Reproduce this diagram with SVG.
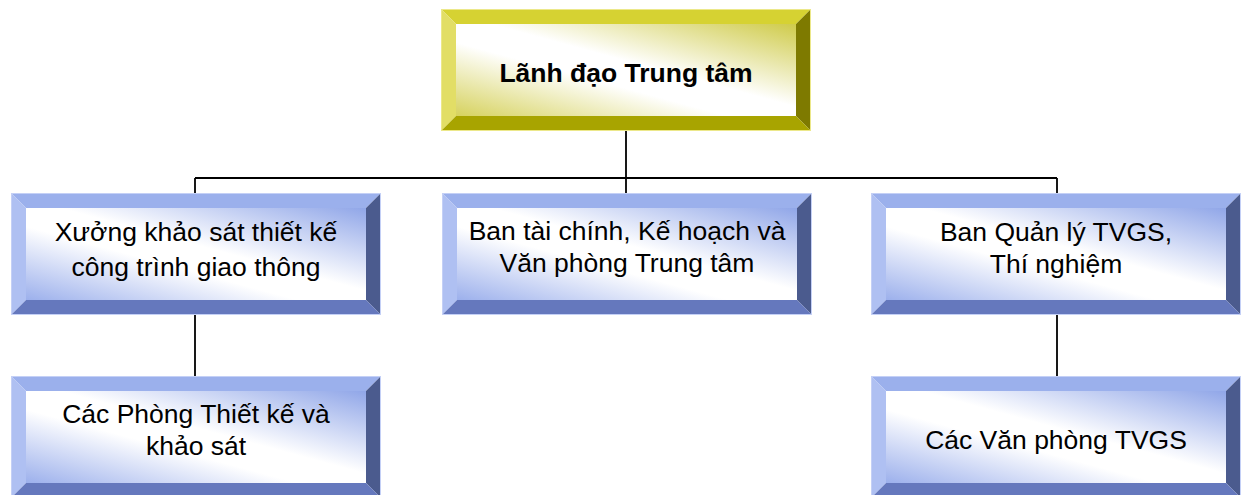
<svg xmlns="http://www.w3.org/2000/svg" width="1241" height="495" viewBox="0 0 1241 495">
<defs>
<linearGradient id="gy" x1="1" y1="0" x2="0" y2="1">
<stop offset="0" stop-color="#CFCB4A"/>
<stop offset="0.45" stop-color="#FFFFFF"/>
<stop offset="0.6" stop-color="#FFFFFF"/>
<stop offset="1" stop-color="#D6D25E"/>
</linearGradient>
<linearGradient id="gb" x1="1" y1="0" x2="0" y2="1">
<stop offset="0" stop-color="#90A6E8"/>
<stop offset="0.45" stop-color="#FFFFFF"/>
<stop offset="0.6" stop-color="#FFFFFF"/>
<stop offset="1" stop-color="#9CB0EC"/>
</linearGradient>
<style>
.yt{fill:#D6D232}.yl{fill:#E2DE66}.yr{fill:#7E7A00}.yb{fill:#A8A400}.yi{fill:url(#gy)}
.bt{fill:#9BB0EC}.bl{fill:#AFC0F2}.br{fill:#4B5B8E}.bb{fill:#6578BD}.bi{fill:url(#gb)}
.yo{fill:none;stroke:#ECE88A;stroke-width:1}
.bo{fill:none;stroke:#C4D0F6;stroke-width:1}
text{font-family:"Liberation Sans",Arial,sans-serif;font-size:26.5px;fill:#000;text-anchor:middle}
.bold{font-weight:bold}
.conn{stroke:#000;stroke-width:1.8;fill:none}
</style>
</defs>
<g id="connectors">
<path class="conn" d="M626,131 V193 M195,178 H1057 M195,178 V193 M1057,178 V193 M195,315 V376 M1057,315 V376"/>
</g>
<g id="node-top">
<polygon class="yt" points="441,9 811,9 796,24 456,24"/>
<polygon class="yl" points="441,9 456,24 456,116 441,131"/>
<polygon class="yr" points="811,9 811,131 796,116 796,24"/>
<polygon class="yb" points="441,131 456,116 796,116 811,131"/>
<rect class="yi" x="456" y="24" width="340" height="92"/>
<rect class="yo" x="441.5" y="9.5" width="369" height="121"/>
<text class="bold" x="626" y="82">Lãnh đạo Trung tâm</text>
</g>
<g id="node-xuong">
<polygon class="bt" points="11,193 381,193 366,208 26,208"/>
<polygon class="bl" points="11,193 26,208 26,300 11,315"/>
<polygon class="br" points="381,193 381,315 366,300 366,208"/>
<polygon class="bb" points="11,315 26,300 366,300 381,315"/>
<rect class="bi" x="26" y="208" width="340" height="92"/>
<rect class="bo" x="11.5" y="193.5" width="369" height="121"/>
<text x="196" y="241">Xưởng khảo sát thiết kế</text>
<text x="196" y="276">công trình giao thông</text>
</g>
<g id="node-ban-taichinh">
<polygon class="bt" points="442,193 812,193 797,208 457,208"/>
<polygon class="bl" points="442,193 457,208 457,300 442,315"/>
<polygon class="br" points="812,193 812,315 797,300 797,208"/>
<polygon class="bb" points="442,315 457,300 797,300 812,315"/>
<rect class="bi" x="457" y="208" width="340" height="92"/>
<rect class="bo" x="442.5" y="193.5" width="369" height="121"/>
<text x="627" y="240">Ban tài chính, Kế hoạch và</text>
<text x="627" y="272">Văn phòng Trung tâm</text>
</g>
<g id="node-ban-quanly">
<polygon class="bt" points="871,193 1241,193 1226,208 886,208"/>
<polygon class="bl" points="871,193 886,208 886,300 871,315"/>
<polygon class="br" points="1241,193 1241,315 1226,300 1226,208"/>
<polygon class="bb" points="871,315 886,300 1226,300 1241,315"/>
<rect class="bi" x="886" y="208" width="340" height="92"/>
<rect class="bo" x="871.5" y="193.5" width="369" height="121"/>
<text x="1056" y="241">Ban Quản lý TVGS,</text>
<text x="1056" y="273">Thí nghiệm</text>
</g>
<g id="node-phong-thietke">
<polygon class="bt" points="11,376 381,376 366,391 26,391"/>
<polygon class="bl" points="11,376 26,391 26,483 11,498"/>
<polygon class="br" points="381,376 381,498 366,483 366,391"/>
<polygon class="bb" points="11,498 26,483 366,483 381,498"/>
<rect class="bi" x="26" y="391" width="340" height="92"/>
<rect class="bo" x="11.5" y="376.5" width="369" height="121"/>
<text x="196" y="423">Các Phòng Thiết kế và</text>
<text x="196" y="455">khảo sát</text>
</g>
<g id="node-vanphong-tvgs">
<polygon class="bt" points="871,376 1241,376 1226,391 886,391"/>
<polygon class="bl" points="871,376 886,391 886,483 871,498"/>
<polygon class="br" points="1241,376 1241,498 1226,483 1226,391"/>
<polygon class="bb" points="871,498 886,483 1226,483 1241,498"/>
<rect class="bi" x="886" y="391" width="340" height="92"/>
<rect class="bo" x="871.5" y="376.5" width="369" height="121"/>
<text x="1056" y="449">Các Văn phòng TVGS</text>
</g>
</svg>
